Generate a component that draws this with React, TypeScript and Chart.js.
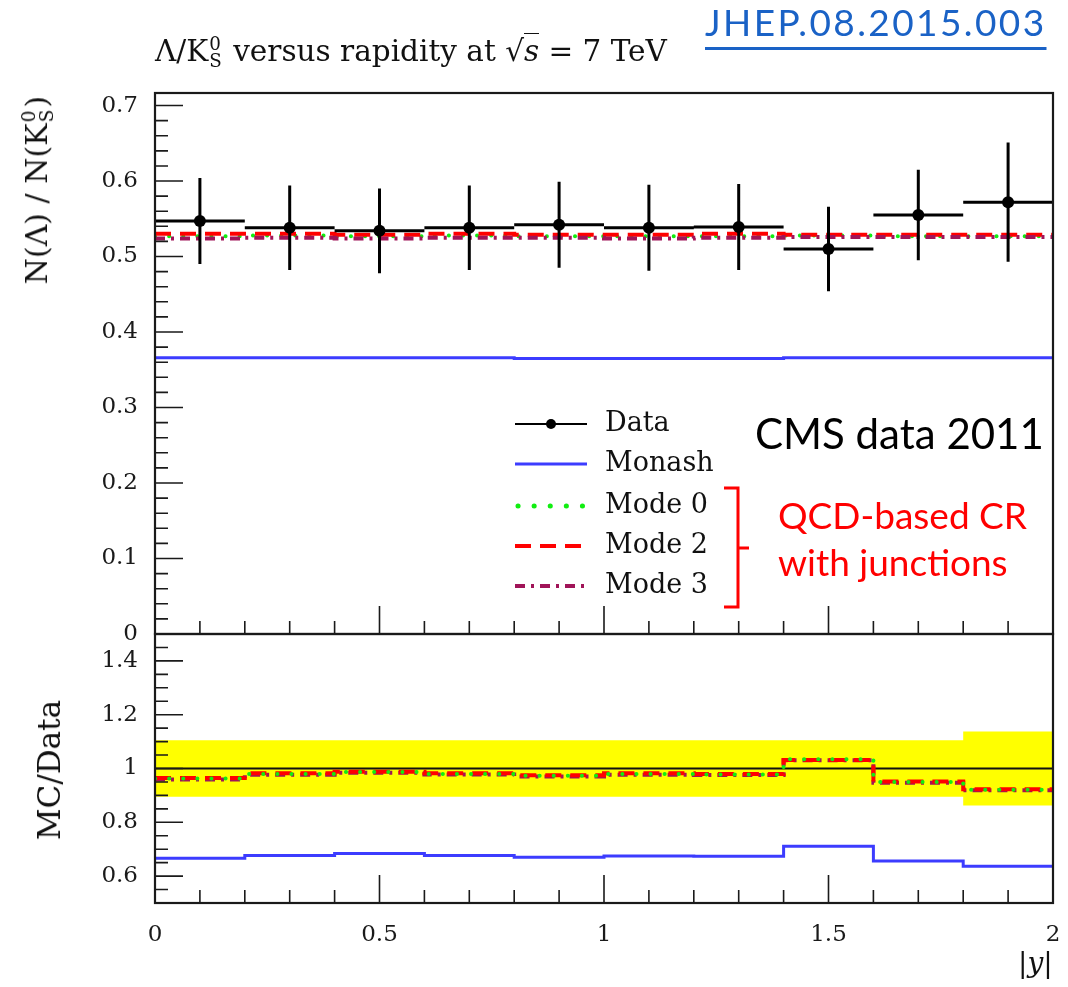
import React, { useEffect, useRef } from 'react';
import { Chart, registerables } from 'chart.js';

Chart.register(...registerables);

// ---------- data ----------
const binEdges = [0, 0.2, 0.4, 0.6, 0.8, 1.0, 1.2, 1.4, 1.6, 1.8, 2.0];
const dataValues = [0.547, 0.538, 0.534, 0.538, 0.542, 0.538, 0.539, 0.51, 0.555, 0.572];
const dataErrors = [0.057, 0.056, 0.056, 0.056, 0.057, 0.057, 0.057, 0.056, 0.06, 0.079];
const monashValues = [0.366, 0.366, 0.366, 0.366, 0.365, 0.365, 0.365, 0.366, 0.366, 0.366];
const mode0Values = [0.527, 0.528, 0.527, 0.528, 0.527, 0.527, 0.527, 0.528, 0.527, 0.527];
const mode2Values = [0.53, 0.53, 0.529, 0.53, 0.529, 0.529, 0.53, 0.529, 0.529, 0.529];
const mode3Values = [0.524, 0.525, 0.524, 0.525, 0.525, 0.524, 0.525, 0.526, 0.526, 0.526];
const monashRatio = [0.666, 0.677, 0.684, 0.677, 0.67, 0.675, 0.674, 0.711, 0.656, 0.637];
const mode0Ratio = [0.963, 0.98, 0.987, 0.98, 0.973, 0.98, 0.978, 1.034, 0.95, 0.921];
const mode2Ratio = [0.965, 0.982, 0.988, 0.982, 0.975, 0.982, 0.98, 1.032, 0.952, 0.923];
const mode3Ratio = [0.959, 0.977, 0.984, 0.978, 0.97, 0.977, 0.976, 1.031, 0.947, 0.919];
const bandHalfWidth = [0.105, 0.105, 0.105, 0.105, 0.105, 0.105, 0.105, 0.105, 0.105, 0.138];
const mainTicks = [0, 0.1, 0.2, 0.3, 0.4, 0.5, 0.6, 0.7];
const ratioTicks = [0.6, 0.8, 1, 1.2, 1.4];
const xTicks = [0, 0.5, 1, 1.5, 2];

const COLORS = {
  data: '#000000',
  monash: '#3c3cff',
  mode0: '#11ee11',
  mode2: '#ff0000',
  mode3: '#a01458',
  band: '#ffff00',
};
const DASH = {
  mode0: [0.1, 14],
  mode2: [16, 9],
  mode3: [10, 6, 3, 6],
};

const SERIF = '"DejaVu Serif", serif';

// ---------- helpers ----------
const stepPoints = (values: number[]) =>
  binEdges.map((e, i) => ({ x: e, y: values[Math.min(i, values.length - 1)] }));
const dataPoints = dataValues.map((v, i) => ({ x: (binEdges[i] + binEdges[i + 1]) / 2, y: v }));
const bandUpper = stepPoints(bandHalfWidth.map((h) => 1 + h));
const bandLower = stepPoints(bandHalfWidth.map((h) => 1 - h));
const unityLine = [
  { x: binEdges[0], y: 1 },
  { x: binEdges[binEdges.length - 1], y: 1 },
];

function makeFrameTicks(yMinor: number, yMajor: number) {
  return {
    id: 'frameTicks',
    afterDraw(chart: any) {
      const { ctx, chartArea } = chart;
      const { left, right, top, bottom } = chartArea;
      const xs = chart.scales.x;
      const ys = chart.scales.y;
      ctx.save();
      ctx.strokeStyle = '#1a1a1a';
      ctx.lineWidth = 1.6;
      ctx.beginPath();
      const y0 = Math.ceil(ys.min / yMinor - 1e-6);
      const y1 = Math.floor(ys.max / yMinor + 1e-6);
      for (let k = y0; k <= y1; k++) {
        const v = k * yMinor;
        const major = Math.abs(v / yMajor - Math.round(v / yMajor)) < 1e-6;
        const py = ys.getPixelForValue(v);
        ctx.moveTo(left, py);
        ctx.lineTo(left + (major ? 28 : 13), py);
      }
      const xMinor = 0.1;
      const xMajor = 0.5;
      const x0 = Math.ceil(xs.min / xMinor - 1e-6);
      const x1 = Math.floor(xs.max / xMinor + 1e-6);
      for (let k = x0; k <= x1; k++) {
        const v = k * xMinor;
        const major = Math.abs(v / xMajor - Math.round(v / xMajor)) < 1e-6;
        const px = xs.getPixelForValue(v);
        ctx.moveTo(px, bottom);
        ctx.lineTo(px, bottom - (major ? 28 : 13));
      }
      ctx.stroke();
      ctx.lineWidth = 2.2;
      ctx.strokeRect(left, top, right - left, bottom - top);
      ctx.restore();
    },
  };
}

const errorBarPlugin = {
  id: 'errorBars',
  afterDatasetsDraw(chart: any) {
    const { ctx } = chart;
    const xs = chart.scales.x;
    const ys = chart.scales.y;
    ctx.save();
    ctx.strokeStyle = COLORS.data;
    ctx.lineWidth = 3;
    ctx.beginPath();
    dataValues.forEach((v, i) => {
      const cx = xs.getPixelForValue((binEdges[i] + binEdges[i + 1]) / 2);
      const py = ys.getPixelForValue(v);
      ctx.moveTo(xs.getPixelForValue(binEdges[i]), py);
      ctx.lineTo(xs.getPixelForValue(binEdges[i + 1]), py);
      ctx.moveTo(cx, ys.getPixelForValue(v - dataErrors[i]));
      ctx.lineTo(cx, ys.getPixelForValue(v + dataErrors[i]));
    });
    ctx.stroke();
    ctx.restore();
  },
};

const legendItems = [
  { label: 'Data', key: 'data' },
  { label: 'Monash', key: 'monash' },
  { label: 'Mode 0', key: 'mode0' },
  { label: 'Mode 2', key: 'mode2' },
  { label: 'Mode 3', key: 'mode3' },
];

const legendPlugin = {
  id: 'histLegend',
  afterDraw(chart: any) {
    const { ctx } = chart;
    const x0 = 515;
    const x1 = 587;
    const ys = [424, 464, 506, 546, 586];
    ctx.save();
    legendItems.forEach((it, i) => {
      const y = ys[i];
      ctx.beginPath();
      ctx.setLineDash([]);
      ctx.lineCap = 'butt';
      if (it.key === 'data') {
        ctx.strokeStyle = COLORS.data;
        ctx.lineWidth = 2;
        ctx.moveTo(x0, y);
        ctx.lineTo(x1, y);
        ctx.stroke();
        ctx.beginPath();
        ctx.fillStyle = COLORS.data;
        ctx.arc((x0 + x1) / 2, y, 5, 0, Math.PI * 2);
        ctx.fill();
      } else {
        ctx.strokeStyle = (COLORS as any)[it.key];
        ctx.lineWidth = it.key === 'monash' ? 3 : 4;
        if (it.key === 'mode0') {
          ctx.setLineDash([0.1, 16]);
          ctx.lineCap = 'round';
          ctx.lineWidth = 5;
          ctx.moveTo(x0 + 3, y);
        } else {
          if (it.key !== 'monash') ctx.setLineDash((DASH as any)[it.key]);
          ctx.moveTo(x0, y);
        }
        ctx.lineTo(x1, y);
        ctx.stroke();
      }
      ctx.fillStyle = '#111';
      ctx.font = '27px ' + SERIF;
      ctx.textBaseline = 'middle';
      ctx.textAlign = 'left';
      ctx.fillText(it.label, 605, y);
    });
    ctx.restore();
  },
};

const tickFont = { family: SERIF, size: 23 };

function yAxis(min: number, max: number, ticks: number[]) {
  return {
    type: 'linear',
    min,
    max,
    afterFit: (s: any) => {
      s.width = 155;
      s.paddingTop = 0;
      s.paddingBottom = 0;
    },
    afterBuildTicks: (s: any) => {
      s.ticks = ticks.map((v) => ({ value: v }));
    },
    grid: { display: false, drawTicks: false },
    border: { display: false },
    ticks: {
      padding: 17,
      font: tickFont,
      color: '#1a1a1a',
      autoSkip: false,
      callback: (v: any) => String(v),
    },
  };
}

const SupSub = ({ sup, sub }: { sup: string; sub: string }) => (
  <span
    style={{
      display: 'inline-flex',
      flexDirection: 'column',
      fontSize: '0.62em',
      lineHeight: 0.92,
      verticalAlign: '0.62em',
      marginLeft: 1,
      marginRight: 2,
    }}
  >
    <span>{sup}</span>
    <span>{sub}</span>
  </span>
);

export default function App() {
  const topRef = useRef<HTMLCanvasElement>(null);
  const botRef = useRef<HTMLCanvasElement>(null);

  useEffect(() => {
    const top = new Chart(topRef.current as HTMLCanvasElement, {
      type: 'line',
      data: {
        datasets: [
          {
            label: 'Data',
            data: dataPoints,
            showLine: false,
            pointRadius: 6,
            pointBackgroundColor: COLORS.data,
            pointBorderColor: COLORS.data,
            pointBorderWidth: 0,
          },
          {
            label: 'Mode 3',
            data: stepPoints(mode3Values),
            stepped: true,
            borderColor: COLORS.mode3,
            borderWidth: 4,
            borderDash: DASH.mode3,
            pointRadius: 0,
            fill: false,
          },
          {
            label: 'Mode 2',
            data: stepPoints(mode2Values),
            stepped: true,
            borderColor: COLORS.mode2,
            borderWidth: 4,
            borderDash: DASH.mode2,
            pointRadius: 0,
            fill: false,
          },
          {
            label: 'Mode 0',
            data: stepPoints(mode0Values),
            stepped: true,
            borderColor: COLORS.mode0,
            borderWidth: 4,
            borderDash: DASH.mode0,
            borderCapStyle: 'round',
            pointRadius: 0,
            fill: false,
          },
          {
            label: 'Monash',
            data: stepPoints(monashValues),
            stepped: true,
            borderColor: COLORS.monash,
            borderWidth: 3,
            pointRadius: 0,
            fill: false,
          },
        ],
      } as any,
      options: {
        animation: false,
        responsive: false,
        devicePixelRatio: 1,
        layout: { padding: { left: 0, right: 15, top: 93, bottom: 26 } },
        scales: {
          x: { type: 'linear', min: 0, max: 2, display: false },
          y: yAxis(0, 0.7166, mainTicks),
        } as any,
        plugins: { legend: { display: false }, tooltip: { enabled: false } },
      },
      plugins: [errorBarPlugin, makeFrameTicks(0.02, 0.1), legendPlugin],
    });

    const bot = new Chart(botRef.current as HTMLCanvasElement, {
      type: 'line',
      data: {
        datasets: [
          {
            label: 'Mode 0',
            data: stepPoints(mode0Ratio),
            stepped: true,
            borderColor: COLORS.mode0,
            borderWidth: 4,
            borderDash: DASH.mode0,
            borderCapStyle: 'round',
            pointRadius: 0,
            fill: false,
          },
          {
            label: 'Mode 2',
            data: stepPoints(mode2Ratio),
            stepped: true,
            borderColor: COLORS.mode2,
            borderWidth: 4,
            borderDash: DASH.mode2,
            pointRadius: 0,
            fill: false,
          },
          {
            label: 'Mode 3',
            data: stepPoints(mode3Ratio),
            stepped: true,
            borderColor: COLORS.mode3,
            borderWidth: 4,
            borderDash: DASH.mode3,
            pointRadius: 0,
            fill: false,
          },
          {
            label: 'Monash',
            data: stepPoints(monashRatio),
            stepped: true,
            borderColor: COLORS.monash,
            borderWidth: 3,
            pointRadius: 0,
            fill: false,
          },
          {
            label: 'unity',
            data: unityLine,
            borderColor: '#111',
            borderWidth: 2,
            pointRadius: 0,
            fill: false,
          },
          {
            label: 'band upper',
            data: bandUpper,
            stepped: true,
            borderColor: 'rgba(0,0,0,0)',
            borderWidth: 1,
            pointRadius: 0,
            backgroundColor: COLORS.band,
            fill: '+1',
          },
          {
            label: 'band lower',
            data: bandLower,
            stepped: true,
            borderColor: 'rgba(0,0,0,0)',
            borderWidth: 1,
            pointRadius: 0,
            fill: false,
          },
        ],
      } as any,
      options: {
        animation: false,
        responsive: false,
        devicePixelRatio: 1,
        layout: { padding: { left: 0, right: 15, top: 34, bottom: 0 } },
        scales: {
          x: {
            type: 'linear',
            min: 0,
            max: 2,
            afterFit: (s: any) => {
              s.height = 84;
              s.paddingLeft = 0;
              s.paddingRight = 0;
            },
            afterBuildTicks: (s: any) => {
              s.ticks = xTicks.map((v) => ({ value: v }));
            },
            grid: { display: false, drawTicks: false },
            border: { display: false },
            ticks: {
              padding: 18,
              font: tickFont,
              color: '#1a1a1a',
              autoSkip: false,
              maxRotation: 0,
              callback: (v: any) => String(v),
            },
          },
          y: yAxis(0.5, 1.5, ratioTicks),
        } as any,
        plugins: { legend: { display: false }, tooltip: { enabled: false } },
      },
      plugins: [makeFrameTicks(0.05, 0.2)],
    });

    return () => {
      top.destroy();
      bot.destroy();
    };
  }, []);

  const rotated = (left: number, top: number): React.CSSProperties => ({
    position: 'absolute',
    left,
    top,
    transformOrigin: 'top right',
    transform: 'translateX(-100%) rotate(-90deg)',
    whiteSpace: 'nowrap',
    lineHeight: 1.2,
  });

  return (
    <div
      style={{
        position: 'absolute',
        left: 0,
        top: 0,
        width: 1068,
        height: 987,
        background: '#ffffff',
        overflow: 'hidden',
      }}
    >
      <canvas ref={topRef} width={1068} height={660} style={{ position: 'absolute', left: 0, top: 0 }} />
      <canvas ref={botRef} width={1068} height={387} style={{ position: 'absolute', left: 0, top: 600 }} />

      {/* title */}
      <div
        style={{
          position: 'absolute',
          left: 155,
          top: 34,
          fontFamily: SERIF,
          fontSize: 29.5,
          lineHeight: 1.2,
          whiteSpace: 'nowrap',
          color: '#111',
        }}
      >
        Λ/K<SupSub sup="0" sub="S" /> versus rapidity at √<span style={{ borderTop: '1.5px solid #111', fontStyle: 'italic' }}>s</span> = 7 TeV
      </div>

      {/* y axis titles */}
      <div style={{ ...rotated(19, 96), fontFamily: SERIF, fontSize: 30, color: '#111' }}>
        N(Λ) / N(K<SupSub sup="0" sub="S" />)
      </div>
      <div style={{ ...rotated(31, 700), fontFamily: SERIF, fontSize: 31, color: '#111' }}>MC/Data</div>

      {/* x axis title */}
      <div
        style={{
          position: 'absolute',
          left: 1018,
          top: 946,
          fontFamily: SERIF,
          fontStyle: 'italic',
          fontSize: 28,
          lineHeight: 1.2,
          color: '#111',
        }}
      >
        |y|
      </div>

      {/* annotations */}
      <div
        style={{
          position: 'absolute',
          left: 705,
          top: 2,
          fontFamily: 'Lato, sans-serif',
          fontSize: 37,
          lineHeight: 1.1,
          letterSpacing: 2.4,
          color: '#1a62c6',
          textDecoration: 'underline',
          textUnderlineOffset: 11,
          textDecorationThickness: 2.5,
          whiteSpace: 'nowrap',
        }}
      >
        JHEP.08.2015.003
      </div>
      <div
        style={{
          position: 'absolute',
          left: 755,
          top: 410,
          fontFamily: 'Lato, sans-serif',
          fontSize: 42,
          lineHeight: 1.1,
          color: '#000',
          whiteSpace: 'nowrap',
        }}
      >
        CMS data 2011
      </div>
      <div
        style={{
          position: 'absolute',
          left: 778,
          top: 492,
          fontFamily: 'Lato, sans-serif',
          fontSize: 37,
          lineHeight: 1.27,
          color: '#ff0000',
          whiteSpace: 'nowrap',
        }}
      >
        QCD-based CR
        <br />
        with junctions
      </div>
      <svg
        width={40}
        height={140}
        style={{ position: 'absolute', left: 715, top: 478 }}
        viewBox="715 478 40 140"
      >
        <path d="M724 488 H738 V607 H724 M738 548 H749" fill="none" stroke="#ff0000" strokeWidth={3} />
      </svg>
    </div>
  );
}
